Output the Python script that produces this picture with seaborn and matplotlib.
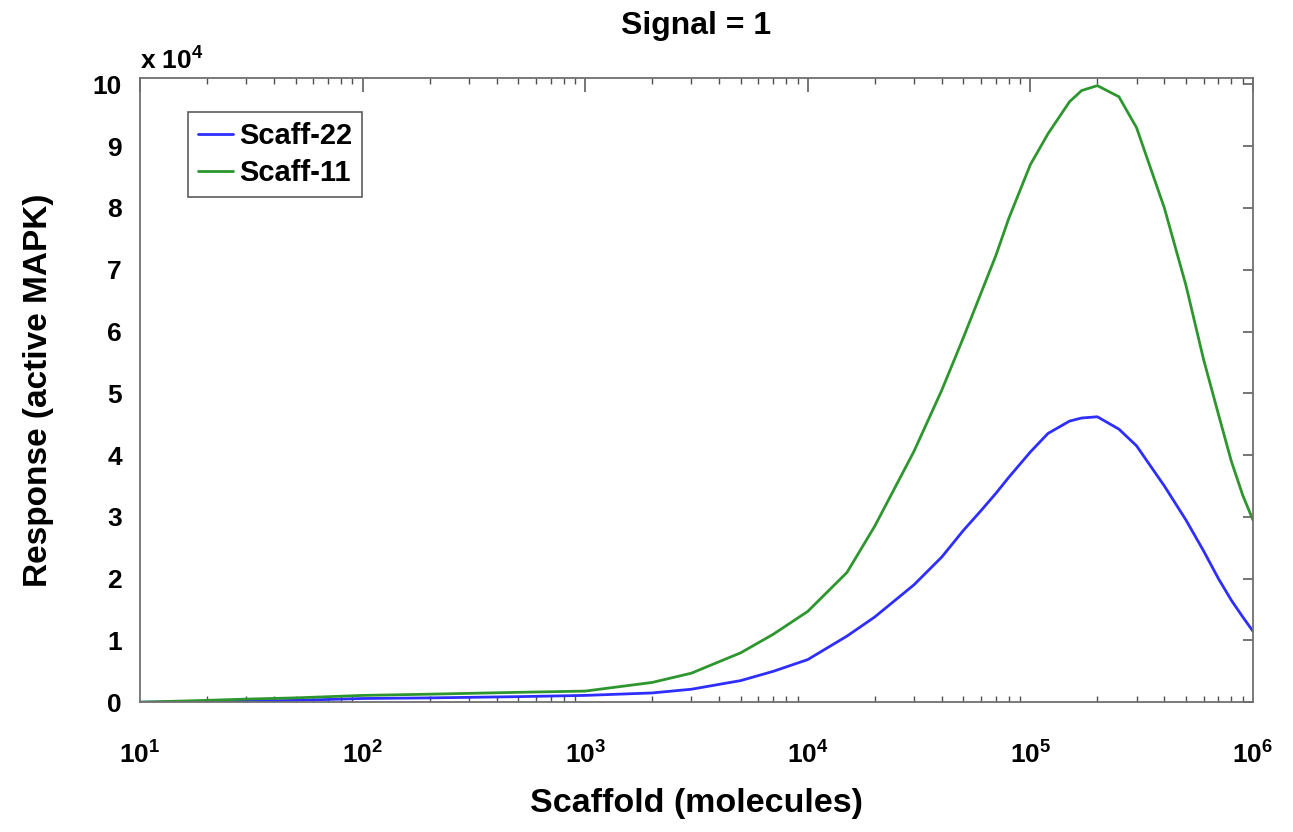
import numpy as np
import pandas as pd
import matplotlib
matplotlib.use("Agg")
import matplotlib.pyplot as plt
import matplotlib.ticker as mticker
import seaborn as sns

# Scaffold amount (molecules) and response (active MAPK, in units of 1e4)
scaffold = [10, 20, 30, 50, 100, 200, 500, 1000, 2000, 3000, 5000, 7000,
            1e4, 1.5e4, 2e4, 3e4, 4e4, 5e4, 6e4, 7e4, 8e4, 1e5, 1.2e5, 1.5e5,
            1.7e5, 2e5, 2.5e5, 3e5, 4e5, 5e5, 6e5, 7e5, 8e5, 9e5, 1e6]
scaff_22 = [0.0, 0.01, 0.015, 0.03, 0.06, 0.07, 0.09, 0.11, 0.15, 0.21, 0.35, 0.5,
            0.69, 1.07, 1.38, 1.9, 2.35, 2.78, 3.1, 3.38, 3.64, 4.05, 4.35, 4.55,
            4.6, 4.62, 4.42, 4.15, 3.5, 2.95, 2.45, 2.0, 1.65, 1.38, 1.15]
scaff_11 = [0.0, 0.03, 0.05, 0.07, 0.11, 0.13, 0.16, 0.18, 0.32, 0.47, 0.8, 1.1,
            1.47, 2.1, 2.85, 4.06, 5.05, 5.9, 6.62, 7.23, 7.83, 8.7, 9.2, 9.72,
            9.9, 9.98, 9.8, 9.3, 8.0, 6.75, 5.55, 4.66, 3.9, 3.35, 2.95]
series = ["Scaff-22", "Scaff-11"]
colors = {"Scaff-22": "#2e2eff", "Scaff-11": "#2e962e"}

df = pd.concat([
    pd.DataFrame({"scaffold": scaffold, "response": scaff_22, "series": series[0]}),
    pd.DataFrame({"scaffold": scaffold, "response": scaff_11, "series": series[1]}),
])

sns.set_theme(style="white")
plt.rcParams["font.family"] = ["Liberation Sans", "DejaVu Sans"]
plt.rcParams["font.weight"] = "bold"
plt.rcParams["mathtext.fontset"] = "custom"
plt.rcParams["mathtext.rm"] = "Liberation Sans:bold"
plt.rcParams["mathtext.bf"] = "Liberation Sans:bold"
for k in ["text.color", "axes.labelcolor", "xtick.labelcolor", "ytick.labelcolor"]:
    plt.rcParams[k] = "black"

fig = plt.figure(figsize=(12.93, 8.32), dpi=100)
ax = fig.add_axes([0.1083, 0.156, 0.8607, 0.750])

sns.lineplot(data=df, x="scaffold", y="response", hue="series", hue_order=series,
             palette=colors, linewidth=2.0, ax=ax, sort=False)

ax.set_xscale("log")
ax.set_xlim(10, 1e6)
ax.set_ylim(0, 10.1)
ax.set_yticks(range(0, 11))
ax.yaxis.set_major_formatter(mticker.FormatStrFormatter("%d"))
ax.xaxis.set_major_locator(mticker.LogLocator(base=10, numticks=10))
ax.xaxis.set_minor_locator(mticker.LogLocator(base=10, subs=np.arange(2, 10), numticks=20))
ax.xaxis.set_major_formatter(mticker.FuncFormatter(lambda v, p: r"$\mathbf{10^{%d}}$" % round(np.log10(v))))

for s in ax.spines.values():
    s.set_color("#707070")
    s.set_linewidth(1.3)
ax.tick_params(axis="both", which="major", direction="in", length=7, width=1.1,
               color="#505050", labelsize=19, top=True, right=True)
ax.tick_params(axis="x", which="minor", direction="in", length=4, width=1.0,
               color="#505050", top=True, bottom=True)
ax.tick_params(axis="x", which="major", length=10, pad=28)
ax.tick_params(axis="y", which="major", pad=13)
for lab in ax.get_xticklabels() + ax.get_yticklabels():
    lab.set_fontweight("bold")

ax.set_xlabel("Scaffold (molecules)", fontsize=24.5, fontweight="bold", labelpad=14)
ax.set_ylabel("Response (active MAPK)", fontsize=24, fontweight="bold", labelpad=28)
ax.set_title("Signal = 1", fontsize=23, fontweight="bold", pad=32)
ax.text(0.0, 1.008, r"x 10$^{4}$", transform=ax.transAxes, fontsize=19,
        fontweight="bold", ha="left", va="bottom")

leg = ax.legend(loc="upper left", bbox_to_anchor=(0.043, 0.9455), fontsize=21,
                frameon=True, fancybox=False, handlelength=1.2, handletextpad=0.2,
                borderpad=0.35, labelspacing=0.3, borderaxespad=0)
leg.get_frame().set_edgecolor("#333333")
leg.get_frame().set_linewidth(1.2)
for t in leg.get_texts():
    t.set_fontweight("bold")

fig.savefig("out.png", dpi=100)
